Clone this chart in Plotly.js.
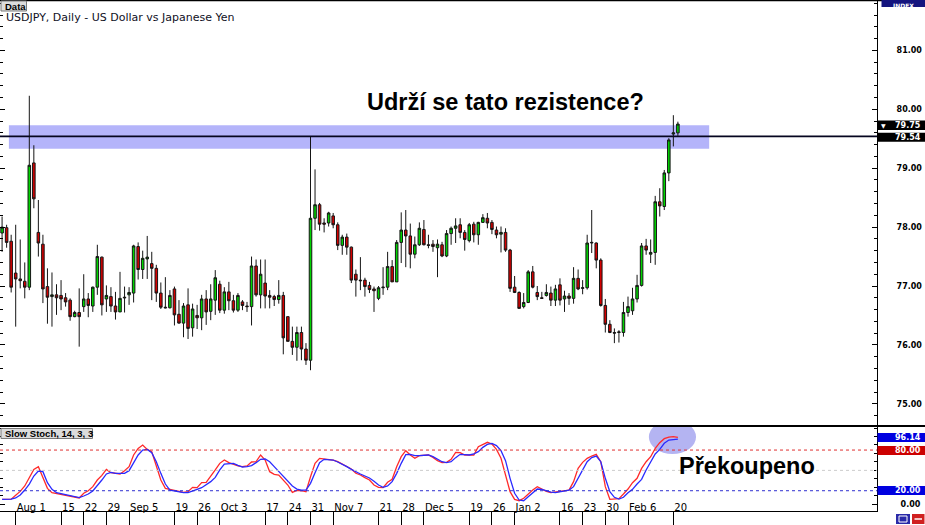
<!DOCTYPE html>
<html><head><meta charset="utf-8">
<script src="https://cdn.plot.ly/plotly-3.0.1.min.js"></script>
<style>html,body{margin:0;padding:0;background:#fff;overflow:hidden}#chart{width:925px;height:525px}</style>
</head><body><div id="chart"></div><script>
// ---- data (USDJPY daily, Jul 27 2011 - Feb 21 2012), bar index 0..149 ----
const open = [77.90,77.99,77.76,77.22,77.12,77.08,76.98,79.09,77.91,77.71,
76.99,76.82,76.85,76.84,76.80,76.76,76.48,76.55,76.65,76.78,
76.66,76.98,77.49,76.78,76.82,76.66,76.56,76.81,76.85,76.88,
77.67,77.28,77.46,77.38,77.30,76.88,76.64,76.63,76.95,76.52,
76.37,76.68,76.29,76.50,76.46,76.78,76.57,76.76,77.03,76.59,
76.90,76.75,76.59,76.73,76.66,76.65,77.34,76.85,77.05,76.84,
76.82,76.77,76.84,76.48,76.06,75.96,76.21,75.93,75.74,78.15,
78.38,78.07,78.07,78.19,78.04,77.69,77.83,77.66,77.20,77.10,
77.10,77.01,76.95,76.79,76.97,76.98,77.33,77.07,77.74,77.95,
77.85,77.54,77.70,77.96,77.70,77.71,77.65,77.70,77.51,77.89,
77.98,78.04,77.91,77.77,78.05,77.87,78.08,78.15,78.08,77.95,
77.88,77.91,77.61,76.98,76.89,76.65,76.72,77.24,76.89,76.80,
76.84,76.88,76.76,77.02,76.78,76.83,76.79,77.13,76.96,76.97,
77.73,77.73,77.44,76.67,76.35,76.21,76.21,76.21,76.55,76.58,
76.78,77.01,77.68,77.54,77.57,78.43,78.35,78.92,79.58,79.60];
const high = [78.18,78.04,77.87,78.04,77.79,77.40,80.23,79.39,78.46,77.87,
77.30,77.23,77.03,77.10,76.88,76.79,76.58,76.96,77.20,76.88,
76.99,77.70,77.50,77.01,76.98,76.90,77.24,76.99,76.98,77.70,
77.74,77.60,77.85,77.58,77.36,77.06,77.15,76.93,76.99,76.76,
76.71,76.96,76.70,76.68,76.85,76.93,77.03,77.27,77.09,76.98,
77.07,76.85,76.88,76.76,76.73,77.50,77.45,77.45,77.45,76.93,
76.85,77.10,76.90,76.48,76.31,76.31,76.31,76.03,79.54,78.98,
78.41,78.15,78.26,78.24,78.08,77.87,77.89,77.67,77.28,77.49,
77.14,77.07,76.99,77.00,77.32,77.58,77.44,77.78,78.25,78.29,
78.06,77.84,78.08,78.12,77.87,77.78,77.79,77.75,77.95,78.01,
78.15,78.15,77.95,78.07,78.09,78.09,78.22,78.24,78.12,78.01,
78.01,77.98,77.63,77.17,76.91,76.88,77.27,77.34,77.00,76.90,
77.03,76.99,77.02,77.13,76.92,76.88,77.32,77.28,77.10,77.87,
78.29,77.74,77.47,76.78,76.42,76.28,76.25,76.73,76.82,76.97,
77.19,77.73,77.80,77.79,78.53,78.66,78.97,79.51,79.90,79.79];
const low = [77.58,77.65,76.89,76.31,76.96,76.79,76.93,78.32,77.50,76.71,
76.36,76.31,76.51,76.59,76.65,76.41,76.47,75.97,76.56,76.47,
76.56,76.85,76.50,76.56,76.56,76.43,76.56,76.55,76.68,76.72,
77.11,77.12,77.12,76.76,76.73,76.61,76.62,76.62,76.33,76.36,
76.13,76.10,76.14,76.27,76.25,76.34,76.42,76.51,76.54,76.53,
76.59,76.55,76.56,76.59,76.56,76.33,76.82,76.62,76.62,76.62,
76.66,76.70,75.84,76.06,75.83,75.73,75.74,75.66,75.57,77.95,
77.94,77.91,78.01,77.98,77.61,77.53,77.53,77.05,76.82,76.93,
76.82,76.88,76.56,76.76,76.85,76.93,77.07,77.07,77.39,77.32,
77.30,77.47,77.68,77.69,77.64,77.58,77.15,77.49,77.49,77.70,
77.73,77.81,77.60,77.74,77.74,77.70,78.07,77.98,77.88,77.81,
77.57,77.58,76.90,76.88,76.62,76.62,76.71,76.96,76.76,76.79,
76.82,76.66,76.66,76.67,76.56,76.68,76.70,76.93,76.86,76.94,
77.56,77.30,76.65,76.21,76.20,76.03,76.04,76.14,76.48,76.51,
76.72,76.99,77.53,77.39,77.36,78.18,78.29,78.78,79.37,79.55];
const close = [78.00,77.74,76.98,77.12,77.09,76.98,79.05,78.48,77.73,76.95,
76.81,76.85,76.80,76.78,76.73,76.48,76.55,76.48,76.78,76.67,
76.98,77.50,76.68,76.84,76.66,76.56,76.79,76.80,76.89,77.68,
77.28,77.47,77.49,77.30,76.88,76.64,76.63,76.84,76.51,76.37,
76.66,76.28,76.61,76.46,76.78,76.56,76.78,77.14,76.59,76.90,
76.75,76.59,76.84,76.67,76.65,77.34,76.85,77.20,76.83,76.81,
76.77,76.84,76.12,76.06,75.96,76.21,75.93,75.74,78.15,78.38,
78.05,78.05,78.24,78.04,77.69,77.83,77.66,77.10,77.10,77.09,
76.99,76.94,76.92,76.97,76.98,77.33,77.07,77.74,77.95,77.85,
77.54,77.70,77.98,77.70,77.69,77.67,77.71,77.51,77.89,77.98,
78.02,77.91,77.79,78.04,77.87,78.08,78.16,78.07,77.96,77.87,
77.91,77.61,76.96,76.89,76.62,76.72,77.24,76.98,76.82,76.79,
76.89,76.76,76.95,76.76,76.83,76.79,77.13,76.95,76.97,77.73,
77.74,77.44,76.67,76.35,76.21,76.20,76.22,76.55,76.65,76.78,
77.01,77.68,77.61,77.57,78.43,78.36,78.92,79.48,79.60,79.75];
// Slow Stochastic 14,3,3 : %K (red) and %D (blue)
const slowK = [7.3,7.3,7.5,13.2,19,27,39.7,51.5,55.5,40,
23.5,17.1,15.7,14.7,13.2,12.2,10.2,9.3,16.2,20,
26,35.8,42.7,51.5,46.6,45.2,44.7,49.6,55.5,72.7,
82.5,87.4,81,77.6,55.5,35.8,23.5,22,21,19.1,
17.6,18.6,25,24.5,31.9,32.4,40.7,50.6,60.4,65.3,
61.4,58.9,56.5,55.5,56.5,62.4,62.8,72.7,65.3,48.1,
44.2,43.2,35.8,28.4,17.6,20.6,20,18.6,40.7,60.4,
67.8,67.3,66.3,65.3,62.8,58.9,55.5,52,45.7,43.2,
39.3,35.8,28.4,25,24.5,32.4,36.8,55.5,70.2,79,
72.7,67.8,71.7,72.7,72.7,69.2,64.3,61.4,61.9,66.3,
76.6,76.1,72.7,72.7,72.7,85,88.4,91.4,88.9,81,
67.8,43.2,18.6,7.3,5.3,8.8,15.2,21,26,22.5,
19.1,17.1,18.1,19.1,20.1,21,33.4,53,61.9,67.8,
71.2,73.7,62.8,26,7.3,7.3,8.3,15.2,22.5,31.9,
38.3,53,62.8,70.2,82.5,90.9,96.8,99.2,99.7,98.6];
const slowD = [7.3,7.3,7.5,9.3,13.7,21,29.9,41.7,49.1,48.1,
31.9,22,17.1,15.7,14.2,13.2,11.2,9.8,12.2,15.2,
19.6,27,35.8,44.7,47.1,45.6,45.2,45.6,49.6,61.4,
72.7,80,81,76.1,62.8,45.6,29.9,21,19.6,18.1,
17.1,17.1,20,22,24.5,28.4,33.4,39.7,50.6,59.4,
60.4,60.4,57.4,55,55.5,57,61.4,66.3,66.8,62.8,
55.5,48.1,41.7,34.8,27,22.5,21,21,30.9,46.6,
61.4,66.3,66.3,65.3,62.4,59.4,55.5,51.5,47.6,44.7,
41.7,38.8,33.9,28.4,25,27,33.4,45.6,60.4,73.2,
73.7,71.7,71.7,72.7,72.7,70.2,66.8,62.8,61.4,62.8,
68.8,73.7,73.2,72.7,74.2,77.6,84,88.4,89.9,86.5,
79.1,64.3,38.3,16.2,6.3,5.3,11.2,17.1,22.5,22,
19.6,18.1,17.1,18.1,20.1,21,26,38.3,50.6,62.8,
68.8,71.2,62.8,38.3,18.6,10.3,7.8,10.3,17.1,22,
29.9,36.8,50.6,61.4,74.2,81,89.9,94.8,95.5,96.14];
const tickIdx = [3,13,18,23,28,38,43,48,58,63,68,73,83,88,93,103,108,113,123,128,133,138,148];
const tickText = ['Aug 1','15','22','29','Sep 5','19','26','Oct 3','17','24','31','Nov 7','21','28','Dec 5','19','26','Jan 2','16','23','30','Feb 6','20'];
const priceTicks = [75,76,77,78,79,80,81];
const stochTicks = [0];
const resistance = 79.54;
const lastPrice = 79.75;
const lastD = 96.14;
const overbought = 80, oversold = 20, midLevel = 50;
const bandLow = 79.33, bandHigh = 79.73;
const titleText = 'USDJPY, Daily - US Dollar vs Japanese Yen';
const question = 'Udrží se tato rezistence?';
const overboughtText = 'Překoupeno';

// ---- geometry helpers (page pixels -> paper) ----
const W = 925, H = 525;
const px = x => x / W;
const py = y => 1 - y / H;
const plotR = px(877);
const idx = open.map((_, i) => i);

const traces = [
  {type:'candlestick', x: idx, open, high, low, close, xaxis:'x', yaxis:'y',
   increasing:{fillcolor:'#00d400', line:{color:'#151515', width:1}},
   decreasing:{fillcolor:'#d40000', line:{color:'#151515', width:1}},
   whiskerwidth:0, hoverinfo:'skip', showlegend:false},
  {type:'scatter', mode:'lines', x: idx, y: slowK, xaxis:'x', yaxis:'y2',
   line:{color:'#ff2a2a', width:1.3}, hoverinfo:'skip'},
  {type:'scatter', mode:'lines', x: idx, y: slowD, xaxis:'x', yaxis:'y2',
   line:{color:'#2a2aff', width:1.3}, hoverinfo:'skip'}
];

const lblFont = {family:'DejaVu Sans', size:8, weight:'bold', color:'#000'};
const whiteFont = {family:'DejaVu Sans', size:8, weight:'bold', color:'#fff'};

const shapes = [
  {type:'rect', xref:'x', yref:'y', x0:1.5, x1:155.9, y0:bandLow, y1:bandHigh,
   fillcolor:'#b4b4fa', line:{width:0}, layer:'below'},
  {type:'line', xref:'paper', yref:'y', x0:0, x1:plotR, y0:resistance, y1:resistance,
   line:{color:'#05051f', width:1.6}},
  {type:'circle', xref:'x', yref:'y2', x0:142.6, x1:153.0, y0:74.2, y1:124.4,
   fillcolor:'rgba(140,140,235,0.65)', line:{width:0}, layer:'below'},
  {type:'line', xref:'paper', yref:'y2', x0:0, x1:plotR, y0:overbought, y1:overbought, line:{color:'#e03030', width:1, dash:'dot'}},
  {type:'line', xref:'paper', yref:'y2', x0:0, x1:plotR, y0:midLevel, y1:midLevel, line:{color:'#cccccc', width:1, dash:'dot'}},
  {type:'line', xref:'paper', yref:'y2', x0:0, x1:plotR, y0:oversold, y1:oversold, line:{color:'#3030d0', width:1, dash:'dot'}},
  {type:'line', xref:'paper', yref:'paper', x0:0, x1:1, y0:py(0.6), y1:py(0.6), line:{color:'#000', width:1.2}},
  {type:'line', xref:'paper', yref:'paper', x0:0, x1:1, y0:py(426), y1:py(426), line:{color:'#000', width:2}},
  {type:'rect', xref:'paper', yref:'paper', x0:px(881.5), x1:1, y0:py(7), y1:1, fillcolor:'#14147e', line:{width:0}},
  {type:'rect', xref:'paper', yref:'y', x0:px(877.5), x1:1, y0:79.65, y1:79.81, fillcolor:'#000', line:{width:0}},
  {type:'rect', xref:'paper', yref:'y', x0:px(877.5), x1:1, y0:79.45, y1:79.60, fillcolor:'#000', line:{width:0}},
  {type:'rect', xref:'paper', yref:'y2', x0:px(877.5), x1:1, y0:91.9, y1:105.2, fillcolor:'#0000e0', line:{width:0}},
  {type:'rect', xref:'paper', yref:'y2', x0:px(877.5), x1:1, y0:72.7, y1:86.0, fillcolor:'#cc0000', line:{width:0}},
  {type:'rect', xref:'paper', yref:'y2', x0:px(877.5), x1:1, y0:13.7, y1:27.0, fillcolor:'#0000e0', line:{width:0}},
  {type:'rect', xref:'paper', yref:'paper', x0:px(1), x1:px(26.5), y0:py(11), y1:py(1), fillcolor:'#dcdcdc', line:{color:'#7a7a7a', width:1}},
  {type:'rect', xref:'paper', yref:'paper', x0:px(1), x1:px(92.5), y0:py(438.5), y1:py(428.5), fillcolor:'#dcdcdc', line:{color:'#7a7a7a', width:1}},
  {type:'rect', xref:'paper', yref:'paper', x0:px(896), x1:px(910), y0:py(524), y1:py(514), fillcolor:'#2a2aa8', line:{width:0}},
  {type:'rect', xref:'paper', yref:'paper', x0:px(912), x1:px(924.5), y0:py(524), y1:py(514), fillcolor:'#d02020', line:{width:0}},
  {type:'rect', xref:'paper', yref:'paper', x0:px(899), x1:px(907), y0:py(522), y1:py(516), line:{color:'#fff', width:1}},
  {type:'line', xref:'paper', yref:'paper', x0:px(914.5), x1:px(922), y0:py(519), y1:py(519), line:{color:'#fff', width:1.5}}
];

const ann = (text, x, y, font, xanchor='left', yanchor='middle') =>
  ({text, x, y, xref:'paper', yref:'paper', xanchor, yanchor, showarrow:false, font});

const annotations = [
  ann('Data', px(3), py(6), {family:'Liberation Sans', size:9.5, weight:'bold', color:'#000'}),
  ann(titleText, px(4), py(17), {family:'DejaVu Sans', size:11, color:'#10101e'}),
  ann('Slow Stoch, 14, 3, 3', px(3), py(433.5), {family:'Liberation Sans', size:9.5, weight:'bold', color:'#000'}),
  ann(question, px(365), py(101.5), {family:'Liberation Sans', size:23.5, weight:'bold', color:'#000'}),
  ann(overboughtText, px(677), py(465.5), {family:'Liberation Sans', size:23.5, weight:'bold', color:'#000'}),
  ann('INDEX', px(903.5), py(0.2), {family:'DejaVu Sans', size:6, weight:'bold', color:'#fff'}, 'center', 'top'),
  ann('\u25BC', px(879), py(125.5), {family:'DejaVu Sans', size:6, color:'#fff'}),
  ann(lastPrice.toFixed(2), px(923), py(125.5), whiteFont, 'right'),
  ann(resistance.toFixed(2), px(923), py(137.5), whiteFont, 'right'),
  ann(lastD.toFixed(2), px(923), py(437.7), whiteFont, 'right'),
  ann(overbought.toFixed(2), px(923), py(450.4), whiteFont, 'right'),
  ann(oversold.toFixed(2), px(923), py(490.8), whiteFont, 'right')
];

const layout = {
  width: W, height: H, margin:{l:0, r:0, t:0, b:0, pad:0},
  paper_bgcolor:'#fff', plot_bgcolor:'#fff', showlegend:false,
  boxgap:0.2, boxgroupgap:0.3,
  xaxis:{domain:[0, plotR], range:[-0.46, 192.9], anchor:'y2', rangeslider:{visible:false},
    tickmode:'array', tickvals:tickIdx, ticktext:tickText, tickangle:0, ticks:'outside', ticklen:14, tickwidth:1, tickcolor:'#000',
    ticklabelposition:'outside right', ticklabelstandoff:-13,
    tickfont:{family:'DejaVu Sans', size:10, color:'#000'},
    showline:true, linecolor:'#000', linewidth:1, showgrid:false, zeroline:false, fixedrange:true},
  yaxis:{domain:[py(425), 1], range:[74.64, 81.856], side:'right', anchor:'x',
    tickmode:'array', tickvals:priceTicks, ticktext:priceTicks.map(v => v.toFixed(2)),
    ticks:'inside', ticklen:5, tickcolor:'#000', tickwidth:1,
    minor:{ticks:'inside', ticklen:3, tickmode:'linear', tick0:75, dtick:0.2, tickcolor:'#000', showgrid:false},
    showline:true, linecolor:'#000', linewidth:1, mirror:'allticks',
    tickfont:lblFont, ticklabelstandoff:17, showgrid:false, zeroline:false, fixedrange:true},
  yaxis2:{domain:[py(511), py(427)], range:[-9.9, 114], side:'right', anchor:'x',
    tickmode:'array', tickvals:stochTicks, ticktext:stochTicks.map(v => v.toFixed(2)),
    ticks:'inside', ticklen:5, tickcolor:'#000', tickwidth:1,
    minor:{ticks:'inside', ticklen:3, tickmode:'linear', tick0:0, dtick:12.5, tickcolor:'#000', showgrid:false},
    showline:true, linecolor:'#000', linewidth:1, mirror:'allticks',
    tickfont:lblFont, ticklabelstandoff:21, showgrid:false, zeroline:false, fixedrange:true},
  shapes, annotations
};

Plotly.newPlot('chart', traces, layout, {staticPlot:true, displayModeBar:false});
</script></body></html>
